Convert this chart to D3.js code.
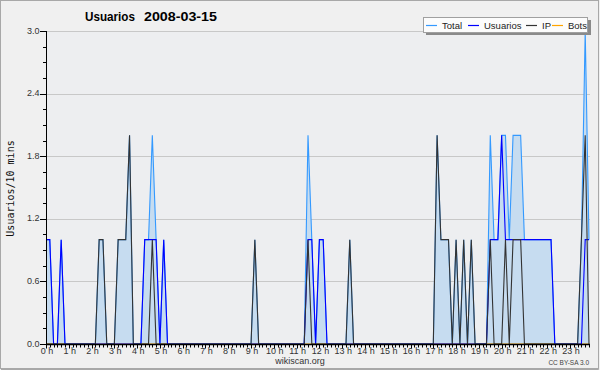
<!DOCTYPE html>
<html>
<head>
<meta charset="utf-8">
<script src="https://cdn.jsdelivr.net/npm/d3@7"></script>
<style>
  body { margin: 0; background: #f0f0f0; }
  svg { display: block; }
</style>
</head>
<body>
<svg id="chart" width="600" height="370"></svg>
<script>
// users per 10 minutes, 144 slots (00:00 .. 23:50)
const total = [
  1,1,0,0,1,0,0,0,0,0,0,0,
  0,0,1,1,0,0,0,1,1,1,2,0,
  0,0,1,1,2,1,0,1,0,0,0,0,
  0,0,0,0,0,0,0,0,0,0,0,0,
  0,0,0,0,0,0,0,1,0,0,0,0,
  0,0,0,0,0,0,0,0,0,2,1,0,
  1,1,0,0,0,0,0,0,1,0,0,0,
  0,0,0,0,0,0,0,0,0,0,0,0,
  0,0,0,0,0,0,0,2,1,1,1,0,
  1,0,1,0,1,0,0,0,0,2,1,1,
  2,2,1,2,2,2,1,1,1,1,1,1,
  1,1,0,0,0,0,0,0,0,1,3,1
];
const usuarios = [
  1,1,0,0,1,0,0,0,0,0,0,0,
  0,0,0,0,0,0,0,0,0,0,0,0,
  0,0,1,1,1,1,0,1,0,0,0,0,
  0,0,0,0,0,0,0,0,0,0,0,0,
  0,0,0,0,0,0,0,0,0,0,0,0,
  0,0,0,0,0,0,0,0,0,1,1,0,
  1,1,0,0,0,0,0,0,0,0,0,0,
  0,0,0,0,0,0,0,0,0,0,0,0,
  0,0,0,0,0,0,0,0,0,0,0,0,
  0,0,0,0,0,0,0,0,0,1,1,1,
  2,1,1,1,1,1,1,1,1,1,1,1,
  1,1,0,0,0,0,0,0,0,0,1,1
];
const ip = [
  0,0,0,0,0,0,0,0,0,0,0,0,
  0,0,1,1,0,0,0,1,1,1,2,0,
  0,0,0,0,1,0,0,0,0,0,0,0,
  0,0,0,0,0,0,0,0,0,0,0,0,
  0,0,0,0,0,0,0,1,0,0,0,0,
  0,0,0,0,0,0,0,0,0,1,0,0,
  0,0,0,0,0,0,0,0,1,0,0,0,
  0,0,0,0,0,0,0,0,0,0,0,0,
  0,0,0,0,0,0,0,2,1,1,1,0,
  1,0,1,0,1,0,0,0,0,1,0,0,
  0,1,0,1,1,1,0,0,0,0,0,0,
  0,0,0,0,0,0,0,0,0,1,2,0
];
const bots = [
  0,0,0,0,0,0,0,0,0,0,0,0,
  0,0,0,0,0,0,0,0,0,0,0,0,
  0,0,0,0,0,0,0,0,0,0,0,0,
  0,0,0,0,0,0,0,0,0,0,0,0,
  0,0,0,0,0,0,0,0,0,0,0,0,
  0,0,0,0,0,0,0,0,0,0,0,0,
  0,0,0,0,0,0,0,0,0,0,0,0,
  0,0,0,0,0,0,0,0,0,0,0,0,
  0,0,0,0,0,0,0,0,0,0,0,0,
  0,0,0,0,0,0,0,0,0,0,0,0,
  0,0,0,0,0,0,0,0,0,0,0,0,
  0,0,0,0,0,0,0,0,0,0,0,0
];
const yTicks = [0, 0.6, 1.2, 1.8, 2.4, 3.0];
const hourLabels = ["0 h","1 h","2 h","3 h","4 h","5 h","6 h","7 h","8 h","9 h","10 h","11 h",
  "12 h","13 h","14 h","15 h","16 h","17 h","18 h","19 h","20 h","21 h","22 h","23 h"];
const legendItems = ["Total", "Usuarios", "IP", "Bots"];
const colors = {Total: "#3399ff", Usuarios: "#0000ff", IP: "#333333", Bots: "#ffa500"};

const font = "'Liberation Sans', Arial, sans-serif";
const svg = d3.select("#chart");

// frame
svg.append("rect").attr("x", 0.5).attr("y", 0.5).attr("width", 598).attr("height", 368)
  .attr("fill", "#f0f0f0").attr("stroke", "#a8a8a8");
svg.append("path").attr("d", "M598.5,1V369.5H1").attr("fill", "none").attr("stroke", "#a8a8a8");

const x = d3.scaleLinear().domain([0, 143]).range([46, 589]);
const y = d3.scaleLinear().domain([0, 3]).range([344, 31]);

// plot background
svg.append("rect").attr("x", 46).attr("y", 31).attr("width", 544).attr("height", 313)
  .attr("fill", "#edeef0");

// grid
svg.append("g").selectAll("line").data(yTicks.slice(1)).enter().append("line")
  .attr("x1", 46).attr("x2", 590)
  .attr("y1", d => Math.round(y(d)) + 0.5).attr("y2", d => Math.round(y(d)) + 0.5)
  .attr("stroke", "#c8c8c8");

// area under total
const area = d3.area().x((d, i) => x(i)).y0(y(0)).y1(d => y(d));
svg.append("path").datum(total).attr("d", area).attr("fill", "#c6dcf0");

const line = d3.line().x((d, i) => x(i)).y(d => y(d));
[["Bots", bots], ["Total", total], ["Usuarios", usuarios], ["IP", ip]].forEach(([name, vals]) => {
  svg.append("path").datum(vals).attr("d", line)
    .attr("fill", "none").attr("stroke", colors[name]).attr("stroke-width", 1.1);
});

// y axis
const yAxis = svg.append("g");
yAxis.append("line").attr("x1", 46.5).attr("x2", 46.5).attr("y1", 31).attr("y2", 345)
  .attr("stroke", "#000");
yAxis.selectAll(".minor").data(d3.range(0, 3.001, 0.15)).enter().append("line")
  .attr("x1", 43).attr("x2", 46)
  .attr("y1", d => Math.round(y(d)) + 0.5).attr("y2", d => Math.round(y(d)) + 0.5)
  .attr("stroke", "#000");
yAxis.selectAll(".major").data(yTicks).enter().append("line")
  .attr("x1", 40).attr("x2", 46)
  .attr("y1", d => Math.round(y(d)) + 0.5).attr("y2", d => Math.round(y(d)) + 0.5)
  .attr("stroke", "#000");
yAxis.selectAll("text").data(yTicks).enter().append("text")
  .attr("x", 39.5).attr("y", d => y(d) + 2.5)
  .attr("text-anchor", "end").attr("font-family", font).attr("font-size", 9).attr("fill", "#333")
  .text(d => d.toFixed(1));

// x axis
const xAxis = svg.append("g");
xAxis.append("line").attr("x1", 46).attr("x2", 590).attr("y1", 344.5).attr("y2", 344.5)
  .attr("stroke", "#000").attr("stroke-width", 1.3);
xAxis.selectAll(".tick").data(d3.range(0, 144)).enter().append("line")
  .attr("x1", d => Math.round(x(d)) + 0.5).attr("x2", d => Math.round(x(d)) + 0.5)
  .attr("y1", 344).attr("y2", d => d % 6 == 0 ? 348.5 : 347.5)
  .attr("stroke", "#000");
xAxis.selectAll("text").data(hourLabels).enter().append("text")
  .attr("x", (d, i) => x(i * 6) + 1).attr("y", 353.5)
  .attr("text-anchor", "middle").attr("font-family", font).attr("font-size", 9).attr("fill", "#333")
  .text(d => d);

// titles
svg.append("text").attr("x", 85).attr("y", 21).attr("font-family", font).attr("font-weight", "bold")
  .attr("font-size", 13).attr("textLength", 50).attr("lengthAdjust", "spacingAndGlyphs").text("Usuarios");
svg.append("text").attr("x", 144).attr("y", 21).attr("font-family", font).attr("font-weight", "bold")
  .attr("font-size", 13).attr("textLength", 73).attr("lengthAdjust", "spacingAndGlyphs").text("2008-03-15");
svg.append("text").attr("transform", "translate(14,188.5) rotate(-90)")
  .attr("text-anchor", "middle").attr("font-family", "'DejaVu Sans Mono', monospace").attr("font-size", 10)
  .attr("fill", "#111").text("Usuarios/10 mins");
svg.append("text").attr("x", 300).attr("y", 364).attr("text-anchor", "middle")
  .attr("font-family", font).attr("font-size", 9).attr("fill", "#333").text("wikiscan.org");
svg.append("text").attr("x", 589).attr("y", 365).attr("text-anchor", "end")
  .attr("font-family", font).attr("font-size", 6.5).attr("fill", "#444").text("CC BY-SA 3.0");

// legend
const legend = svg.append("g");
legend.append("rect").attr("x", 426).attr("y", 20).attr("width", 165).attr("height", 15).attr("fill", "#8a8a8a");
legend.append("rect").attr("x", 423.5).attr("y", 17.5).attr("width", 164).attr("height", 15)
  .attr("fill", "#fcfcfc").attr("stroke", "#a0a0a0");
const legendX = [426, 468, 526, 552];
legendItems.forEach((name, i) => {
  legend.append("line").attr("x1", legendX[i]).attr("x2", legendX[i] + 11).attr("y1", 25.5).attr("y2", 25.5)
    .attr("stroke", colors[name]).attr("stroke-width", 1.2);
  legend.append("text").attr("x", legendX[i] + 16).attr("y", 29).attr("font-family", font)
    .attr("font-size", 9.5).attr("fill", "#222").text(name);
});
</script>
</body>
</html>
